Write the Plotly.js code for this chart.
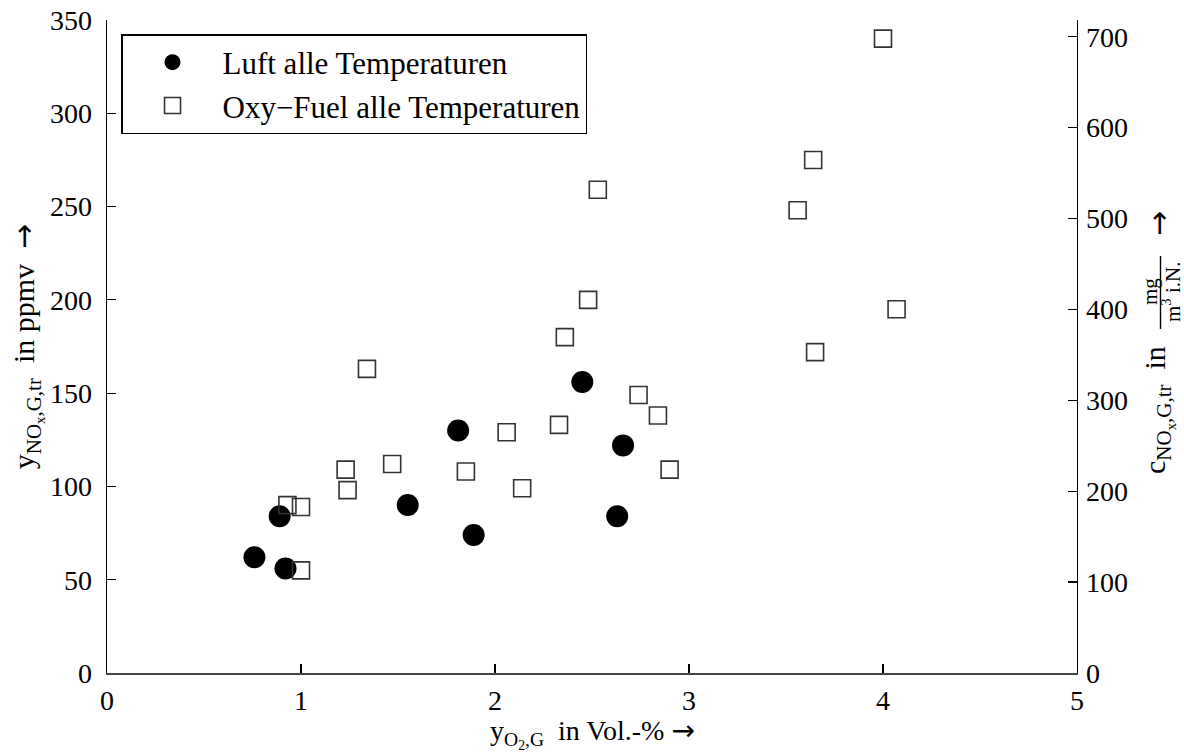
<!DOCTYPE html>
<html>
<head>
<meta charset="utf-8">
<script src="https://cdn.plot.ly/plotly-3.0.1.min.js"></script>
<style>
  html, body { margin: 0; padding: 0; background: #fff; }
  #chart { width: 1184px; height: 753px; }
</style>
</head>
<body>
<div id="chart"></div>
<script>
// O2 content of the flue gas (Vol.-%) and NOx concentration (ppmv, dry)
const luftO2  = [0.76, 0.89, 0.92, 1.55, 1.81, 1.89, 2.45, 2.66, 2.63];
const luftNOx = [62, 84, 56, 90, 130, 74, 156, 122, 84];

const oxyO2  = [1.34, 1.23, 1.24, 1.47, 0.93, 1.00, 1.00, 2.06, 1.85, 2.14, 2.33,
                2.48, 2.36, 2.53, 2.74, 2.84, 2.90, 4.00, 3.64, 3.56, 4.07, 3.65];
const oxyNOx = [163, 109, 98, 112, 90, 89, 55, 129, 108, 99, 133,
                200, 180, 259, 149, 138, 109, 340, 275, 248, 195, 172];

const seriesNames = ["Luft alle Temperaturen", "Oxy\u2212Fuel alle Temperaturen"];

// ppmv -> mg/m3 i.N. for NOx counted as NO2
const ppmToMg = 2.0525;
const yMax = 350;
const leftTicks  = [0, 50, 100, 150, 200, 250, 300, 350];
const rightTicks = [0, 100, 200, 300, 400, 500, 600, 700];
const xTicks     = [0, 1, 2, 3, 4, 5];

const serif = "Liberation Serif, Times New Roman, serif";
const fs = 28;      // tick labels
const ts = 30;      // axis titles
const arrow = '<span style="font-family:DejaVu Sans">\u2192</span>';

const traces = [
  {
    x: luftO2, y: luftNOx, name: seriesNames[0], type: "scatter", mode: "markers",
    marker: { symbol: "circle", size: 22, color: "#000", line: { width: 0 } },
    hoverinfo: "x+y"
  },
  {
    x: oxyO2, y: oxyNOx, name: seriesNames[1], type: "scatter", mode: "markers",
    marker: { symbol: "square-open", size: 17, color: "#333", line: { width: 1.6, color: "#333" } },
    hoverinfo: "x+y"
  },
  {
    // carrier for the secondary (mg/m3) axis
    x: [null], y: [null], yaxis: "y2", type: "scatter", mode: "markers",
    showlegend: false, hoverinfo: "skip"
  }
];

const L = 107, R = 107, T = 20, B = 80;
const W = 1184, H = 753;
const pw = W - L - R, ph = H - T - B;
const px = v => (v - L) / pw;          // pixel -> paper x
const py = v => (H - B - v) / ph;      // pixel -> paper y

const layout = {
  width: W, height: H,
  margin: { l: L, r: R, t: T, b: B, pad: 0 },
  paper_bgcolor: "#fff", plot_bgcolor: "#fff",
  font: { family: serif, size: fs, color: "#000" },
  showlegend: true,
  legend: {
    x: px(121), y: py(34), xanchor: "left", yanchor: "top",
    bgcolor: "#fff", bordercolor: "#000", borderwidth: 1.5,
    font: { family: serif, size: 31, color: "#000" },
    itemwidth: 90, itemsizing: "trace"
  },
  xaxis: {
    range: [0, 5], tickvals: xTicks, ticktext: xTicks.map(String),
    ticks: "inside", ticklen: 9, tickwidth: 1.2, tickcolor: "#000",
    showline: true, linecolor: "#444", linewidth: 2,
    showgrid: false, zeroline: false, mirror: false,
    ticklabelstandoff: 1,
    tickfont: { family: serif, size: fs, color: "#000" }
  },
  yaxis: {
    range: [0, yMax], tickvals: leftTicks, ticktext: leftTicks.map(String),
    ticks: "inside", ticklen: 9, tickwidth: 1.2, tickcolor: "#000",
    showline: true, linecolor: "#000", linewidth: 1.3,
    showgrid: false, zeroline: false,
    ticklabelstandoff: 8,
    tickfont: { family: serif, size: fs, color: "#000" },
    title: { text: "y<sub>NO<sub>x</sub>,G,tr</sub>  in ppmv  " + arrow, standoff: 6,
             font: { family: serif, size: ts, color: "#000" } }
  },
  yaxis2: {
    overlaying: "y", side: "right",
    range: [0, yMax * ppmToMg], tickvals: rightTicks, ticktext: rightTicks.map(String),
    ticks: "inside", ticklen: 9, tickwidth: 1.2, tickcolor: "#000",
    showline: true, linecolor: "#000", linewidth: 1.3,
    showgrid: false, zeroline: false,
    ticklabelstandoff: 2,
    tickfont: { family: serif, size: fs, color: "#000" }
  },
  shapes: [
    // fraction bar of the mg / (m3 i.N.) unit
    { type: "line", xref: "paper", yref: "paper",
      x0: px(1160.5), x1: px(1160.5), y0: py(329), y1: py(256),
      line: { color: "#000", width: 1.4 } }
  ],
  annotations: [
    // x axis title
    { xref: "paper", yref: "paper", x: 0.5, y: py(734), xanchor: "center", yanchor: "middle",
      showarrow: false,
      text: "y<sub>O<sub>2</sub>,G</sub>  in Vol.-% " + arrow,
      font: { family: serif, size: 28, color: "#000" } },
    // secondary axis title: c_NOx,G,tr in mg / (m3 i.N.) ->
    { xref: "paper", yref: "paper", x: px(1158), y: py(410), xanchor: "center", yanchor: "middle",
      textangle: -90, showarrow: false,
      text: "c<sub>NO<sub>x</sub>,G,tr</sub>  in",
      font: { family: serif, size: ts, color: "#000" } },
    { xref: "paper", yref: "paper", x: px(1150), y: py(292), xanchor: "center", yanchor: "middle",
      textangle: -90, showarrow: false, text: "mg",
      font: { family: serif, size: 21, color: "#000" } },
    { xref: "paper", yref: "paper", x: px(1171), y: py(292), xanchor: "center", yanchor: "middle",
      textangle: -90, showarrow: false, text: "m<sup>3</sup> i.N.",
      font: { family: serif, size: 21, color: "#000" } },
    { xref: "paper", yref: "paper", x: px(1158), y: py(224), xanchor: "center", yanchor: "middle",
      textangle: -90, showarrow: false, text: "\u2192",
      font: { family: "DejaVu Sans", size: ts, color: "#000" } }
  ]
};

Plotly.newPlot("chart", traces, layout, { staticPlot: true, displayModeBar: false });
</script>
</body>
</html>
